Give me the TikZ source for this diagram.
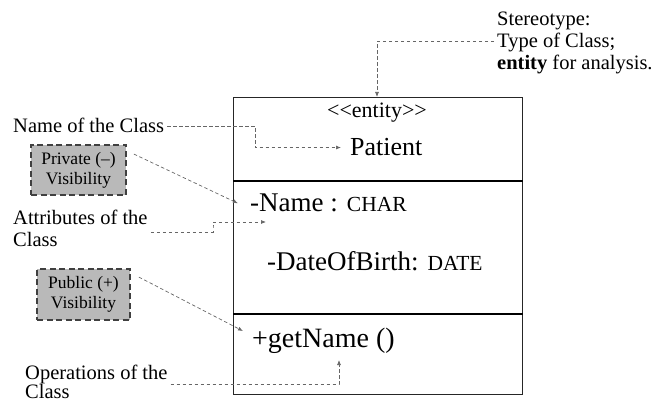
\documentclass[tikz,border=0pt]{standalone}
\usepackage{fontspec}
\setmainfont{Liberation Serif}
\usetikzlibrary{arrows.meta}
\newcommand\fs[2]{\fontsize{#1}{#2}\selectfont}
\newcommand\capsm[1]{{\fontsize{21.5}{24}\selectfont #1}}
\begin{document}
\begin{tikzpicture}[x=1pt,y=-1pt,
  conn/.style={draw=black!60, line width=0.7pt, dash pattern=on 3.5pt off 2.5pt,
    -{Latex[length=5pt,width=4pt]}},
  vis/.style={draw=black!75, fill=gray!55, line width=1.8pt,
    dash pattern=on 6pt off 3.5pt, minimum width=95pt, minimum height=50pt,
    align=center, inner sep=0pt, font=\fs{17.5}{20}},
  lbl/.style={anchor=base west, align=left, inner sep=0pt, font=\fs{20.5}{22}},
  member/.style={anchor=base west, inner sep=0pt, font=\fs{27}{30}}]

\useasboundingbox (0,0) rectangle (654,401);

% class box with its three compartments
\node[draw=black!85, line width=1pt, minimum width=289pt, minimum height=297pt,
      anchor=north west, inner sep=0pt] (cls) at (233,97) {};
\draw[line width=2pt] (cls.west |- 0,181) -- (cls.east |- 0,181);
\draw[line width=2pt] (cls.west |- 0,314) -- (cls.east |- 0,314);

% class contents
\node[anchor=base, inner sep=0pt, font=\fs{22}{24}] (stereo) at (377,118)
  {<\kern0pt<entity>\kern0pt>};
\node[member, font=\fs{26}{28}] (patient) at (350,156) {Patient};
\node[member] (attrname) at (250,212) {-Name : \capsm{CHAR}};
\node[member] (attrdob) at (267,270) {-DateOfBirth: \capsm{DATE}};
\node[member, font=\fs{28}{30}] (opname) at (252,347) {+getName ()};

% explanatory labels (base anchor sits on the last line)
\node[lbl] (sterlbl) at (497,70)
  {Stereotype:\\Type of Class;\\\textbf{entity} for analysis.};
\node[lbl] (namelbl) at (13,133) {Name of the Class};
\node[lbl] (attrlbl) at (13,247) {Attributes of the\\Class};
\node[lbl, font=\fs{20.5}{19}] (oplbl) at (25,398) {Operations of the\\Class};

% visibility boxes
\node[vis] (priv) at (78.5,170) {Private (–)\\Visibility};
\node[vis, minimum width=93pt, minimum height=51pt] (pub) at (83.5,294.5)
  {Public (+)\\Visibility};

% free ends of connectors
\coordinate (attrTip) at (266,222);
\coordinate (pubTip) at (243,331);
\coordinate (opTip) at (339,360);

% connectors
\draw[conn] ([xshift=-3pt,yshift=2pt]sterlbl.west) -| (stereo |- cls.north);
\draw[conn] ([xshift=3pt]namelbl.east) -| (255,140) |- ([xshift=-9pt]patient.west);
\draw[conn] ([xshift=7pt,yshift=-10pt]priv.north east) -- ([xshift=-12pt]attrname.west);
\draw[conn] ([xshift=3pt,yshift=-3pt]attrlbl.east) -| (213,227) |- (attrTip);
\draw[conn] ([xshift=8pt,yshift=-9pt]pub.north east) -- (pubTip);
\draw[conn] ([xshift=3pt,yshift=-3pt]oplbl.east) -| (opTip);
\end{tikzpicture}
\end{document}
